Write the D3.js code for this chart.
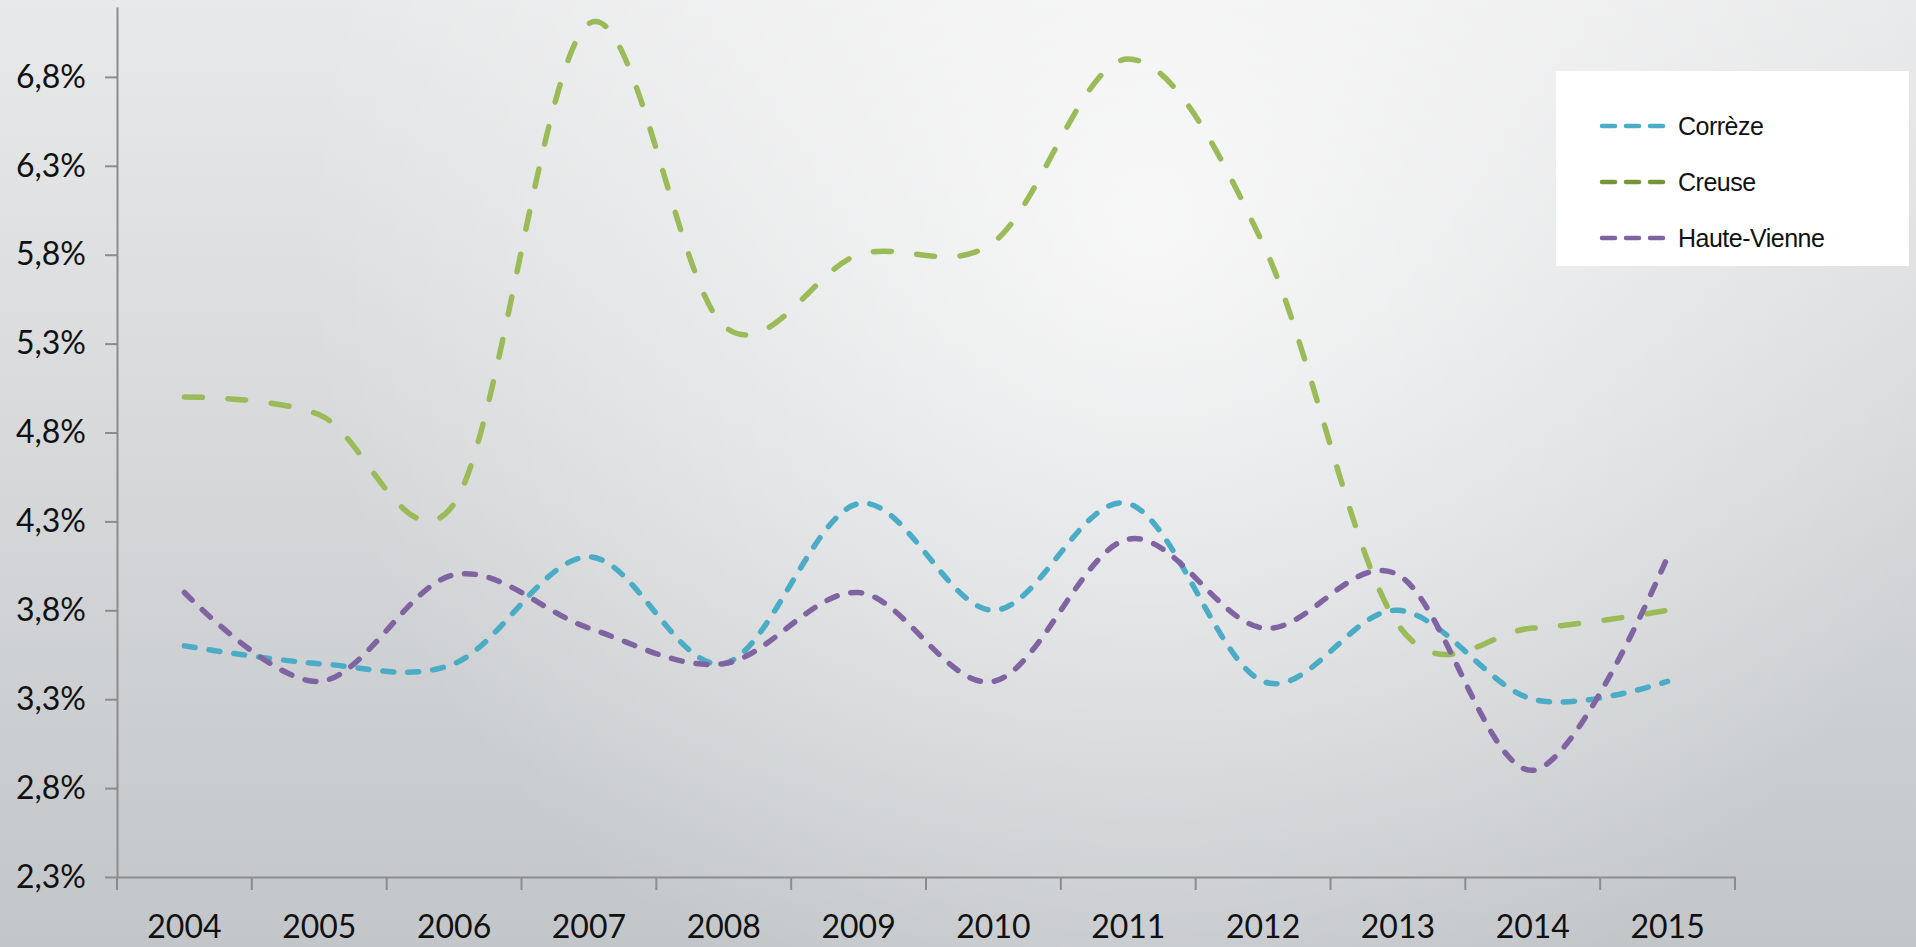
<!DOCTYPE html>
<html>
<head>
<meta charset="utf-8">
<script src="https://cdn.jsdelivr.net/npm/d3@7"></script>
<style>
  html, body { margin: 0; padding: 0; overflow: hidden; }
  svg { display: block; }
</style>
</head>
<body>
<svg id="chart" width="1916" height="947"></svg>
<script>
// données (taux en %)
const years = ['2004', '2005', '2006', '2007', '2008', '2009', '2010', '2011', '2012', '2013', '2014', '2015']
const correze = [3.6, 3.5, 3.5, 4.1, 3.5, 4.4, 3.8, 4.4, 3.4, 3.8, 3.3, 3.4]
const creuse = [5.0, 4.9, 4.4, 7.1, 5.4, 5.8, 5.87, 6.9, 5.86, 3.72, 3.7, 3.8]
const hauteVienne = [3.9, 3.4, 4.0, 3.7, 3.5, 3.9, 3.4, 4.2, 3.7, 4.0, 2.9, 4.1]
const yTicks = [2.3, 2.8, 3.3, 3.8, 4.3, 4.8, 5.3, 5.8, 6.3, 6.8]
const seriesNames = ['Corrèze', 'Creuse', 'Haute-Vienne']

const W = 1916
const H = 947
const gLeft = 117
const gRight = 1735
const gTop = 7
const gBottom = 877

const svg = d3.select('#chart')
const defs = svg.append('defs')

// fond dégradé
const lin = defs.append('linearGradient')
  .attr('id', 'bg')
  .attr('x1', 0).attr('y1', 0).attr('x2', 0).attr('y2', 1)
lin.append('stop').attr('offset', 0).attr('stop-color', '#e8e9ea')
lin.append('stop').attr('offset', 1).attr('stop-color', '#c3c6c9')

const rad = defs.append('radialGradient')
  .attr('id', 'glow')
  .attr('gradientUnits', 'userSpaceOnUse')
  .attr('cx', 1150).attr('cy', 230).attr('r', 850)
rad.append('stop').attr('offset', 0).attr('stop-color', '#ffffff').attr('stop-opacity', 0.75)
rad.append('stop').attr('offset', 1).attr('stop-color', '#ffffff').attr('stop-opacity', 0)

svg.append('rect').attr('width', W).attr('height', H).attr('fill', 'url(#bg)')
svg.append('rect').attr('width', W).attr('height', H).attr('fill', 'url(#glow)')

const x = d3.scaleBand()
  .domain(years)
  .range([gLeft, gRight])
  .paddingInner(0)
  .paddingOuter(0)

const y = d3.scaleLinear()
  .domain([2.3, 2.3 + (gBottom - gTop) / 177.8])
  .range([gBottom, gTop])

const fmt = d => d3.format('.1f')(d).replace('.', ',') + '%'

// axe y
const yaxisg = svg.append('g')
  .attr('transform', `translate(${gLeft}, 0)`)
  .call(d3.axisLeft(y).tickValues(yTicks).tickFormat(fmt).tickSize(12).tickSizeOuter(0).tickPadding(19))
yaxisg.select('.domain').attr('stroke', '#8c8c8c').attr('stroke-width', 2)
yaxisg.selectAll('.tick line').attr('stroke', '#8c8c8c').attr('stroke-width', 2)
yaxisg.selectAll('.tick text')
  .attr('fill', '#111')
  .style('font-family', 'Lato, "Open Sans", sans-serif')
  .style('font-size', '32px')

// axe x
const xaxisg = svg.append('g')
  .attr('transform', `translate(0, ${gBottom})`)
  .call(d3.axisBottom(x).tickSize(0).tickSizeOuter(0).tickPadding(38))
xaxisg.select('.domain').attr('stroke', '#8c8c8c').attr('stroke-width', 2)
xaxisg.selectAll('.tick text')
  .attr('fill', '#111')
  .style('font-family', 'Lato, "Open Sans", sans-serif')
  .style('font-size', '32px')

// graduations entre les catégories
const bounds = years.map(d => x(d)).concat([gRight])
xaxisg.selectAll('line.sep')
  .data(bounds)
  .enter()
  .append('line')
  .classed('sep', true)
  .attr('x1', d => d).attr('x2', d => d)
  .attr('y1', 0).attr('y2', 13)
  .attr('stroke', '#8c8c8c')
  .attr('stroke-width', 2)

// courbes
const series = [
  { name: seriesNames[0], values: correze, color: '#4bacc6', legend: '#4bacc6', dash: '11,14', width: 5.5 },
  { name: seriesNames[1], values: creuse, color: '#9bbb59', legend: '#77933c', dash: '18,25.5', width: 5.5 },
  { name: seriesNames[2], values: hauteVienne, color: '#8064a2', legend: '#8064a2', dash: '11,14', width: 5.5 }
]

const line = d3.line()
  .x((d, i) => x(years[i]) + x.bandwidth() / 2)
  .y(d => y(d))
  .curve(d3.curveCardinal.tension(0))

svg.append('g').selectAll('path.serie')
  .data(series)
  .enter()
  .append('path')
  .classed('serie', true)
  .attr('d', d => line(d.values))
  .attr('fill', 'none')
  .attr('stroke', d => d.color)
  .attr('stroke-width', d => d.width)
  .attr('stroke-dasharray', d => d.dash)
  .attr('stroke-linecap', 'round')

// légende
const lg = svg.append('g').attr('transform', 'translate(1556, 71)')
lg.append('rect')
  .attr('width', 353)
  .attr('height', 195)
  .attr('fill', '#ffffff')

const item = lg.selectAll('g.item')
  .data(series)
  .enter()
  .append('g')
  .classed('item', true)
  .attr('transform', (d, i) => `translate(0, ${55 + i * 56})`)

item.append('line')
  .attr('x1', 46).attr('x2', 107)
  .attr('stroke', d => d.legend)
  .attr('stroke-width', 4.5)
  .attr('stroke-dasharray', '13,11')
  .attr('stroke-linecap', 'round')

item.append('text')
  .attr('x', 122)
  .attr('dy', '0.35em')
  .text(d => d.name)
  .style('font-family', '"Liberation Sans", Arial, sans-serif')
  .style('font-size', '25px')
  .style('letter-spacing', '-0.5px')
  .attr('fill', '#111')
</script>
</body>
</html>
